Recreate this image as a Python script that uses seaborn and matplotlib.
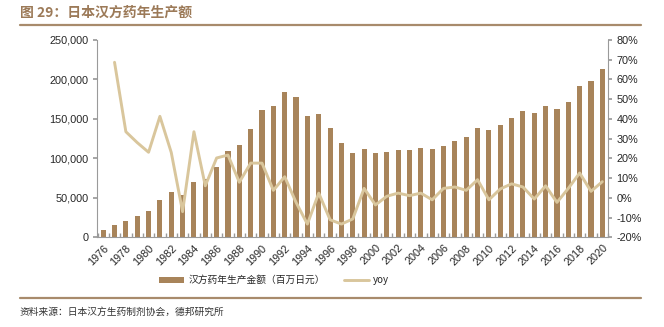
import numpy as np
import pandas as pd
import matplotlib
matplotlib.use("Agg")
import matplotlib.pyplot as plt
import seaborn as sns
from matplotlib.ticker import FuncFormatter, FixedLocator
from matplotlib.lines import Line2D
from matplotlib.patches import Patch

years = list(range(1976, 2021))
production = [9000, 15200, 20300, 26600, 33000, 47000, 57500, 53000, 70700, 74000,
              89500, 109400, 117000, 137300, 161300, 166800, 184500, 178200, 153700, 156700,
              138500, 119500, 106800, 111900, 107200, 108100, 110300, 110600, 113200, 111500,
              116100, 122000, 126700, 138100, 136000, 142000, 151200, 159700, 157500, 166400,
              162200, 171500, 192100, 197700, 213300]
yoy_years = list(range(1977, 2021))
yoy = [68.7, 33.5, 28.0, 23.1, 41.3, 23.0, -7.0, 33.5, 6.1, 20.2,
       21.7, 7.9, 17.6, 17.6, 3.8, 10.7, -2.3, -13.3, 2.4, -11.1,
       -13.3, -10.7, 4.8, -3.6, 0.8, 2.4, 1.1, 2.4, -1.0, 4.8,
       5.5, 3.8, 9.2, -1.0, 4.5, 7.1, 5.5, -0.6, 6.1, -2.3,
       4.8, 12.6, 3.3, 8.2]

title = "图 29：日本汉方药年生产额"
bar_label = "汉方药年生产金额（百万日元）"
line_label = "yoy"
source = "资料来源：日本汉方生药制剂协会，德邦研究所"

sns.set_theme(style="white")
plt.rcParams['font.family'] = ['Liberation Sans', 'Noto Sans CJK SC', 'DejaVu Sans']

bar_color = "#A8845A"
line_color = "#D9C69C"
axis_color = "#9A9A9A"

fig = plt.figure(figsize=(6.64, 3.27), dpi=100)
ax = fig.add_axes([0.146, 0.2743, 0.7697, 0.6034])

df = pd.DataFrame({"year": [str(y) for y in years], "value": production})
sns.barplot(data=df, x="year", y="value", color=bar_color, width=0.45,
            saturation=1, ax=ax, edgecolor="none")

ax2 = ax.twinx()
pos = {y: i for i, y in enumerate(years)}
ldf = pd.DataFrame({"x": [pos[y] for y in yoy_years], "yoy": yoy})
sns.lineplot(data=ldf, x="x", y="yoy", color=line_color, linewidth=2.1, ax=ax2)

ax.set_xlim(-0.55, len(years) - 0.5)
ax.set_ylim(0, 250000)
ax2.set_ylim(-20, 80)
ax.set_yticks(np.arange(0, 250001, 50000))
ax2.set_yticks(np.arange(-20, 81, 10))
ax.yaxis.set_major_formatter(FuncFormatter(lambda v, p: f"{int(v):,}"))
ax2.yaxis.set_major_formatter(FuncFormatter(lambda v, p: f"{int(v)}%"))

ax.set_xticks(range(0, len(years), 2))
ax.set_xticklabels([str(y) for y in years[::2]], rotation=45, ha="right",
                   rotation_mode="anchor", fontsize=7.8)
ax.xaxis.set_minor_locator(FixedLocator(np.arange(-0.5, len(years), 1)))
ax.tick_params(axis="x", which="major", length=0, pad=4)
ax.tick_params(axis="x", which="minor", length=3, direction="in", color=axis_color, bottom=True)
ax.tick_params(axis="y", length=3, direction="out", color=axis_color, labelsize=7.8, pad=3, left=True)
ax2.tick_params(axis="y", length=3, direction="out", color=axis_color, labelsize=7.8, pad=3, right=True)
ax.set_xlabel("")
ax.set_ylabel("")
ax2.set_xlabel("")
ax2.set_ylabel("")

for a in (ax, ax2):
    a.spines["top"].set_visible(False)
    for s in ("left", "right", "bottom"):
        a.spines[s].set_color(axis_color)
        a.spines[s].set_linewidth(0.8)
    a.grid(False)
ax.spines["right"].set_visible(False)
ax2.spines["left"].set_visible(False)
ax2.spines["bottom"].set_visible(False)

handles = [Patch(facecolor=bar_color, edgecolor="none"),
           Line2D([0], [0], color=line_color, linewidth=2.1)]
fig.legend(handles, [bar_label, line_label], loc="center", bbox_to_anchor=(0.413, 0.143),
           ncol=2, frameon=False, handlelength=2.6, handleheight=0.6,
           columnspacing=2.0, handletextpad=0.4,
           prop={"family": ["Noto Sans CJK SC", "Liberation Sans"], "size": 7.0})

fig.text(0.03, 0.962, title, fontsize=10, fontweight="bold", color="#9C7A58",
         va="center", ha="left", family=["Noto Sans CJK SC", "DejaVu Sans"])
fig.add_artist(Line2D([0.03, 0.965], [0.923, 0.923], color="#A88B6C", linewidth=1.6,
                      transform=fig.transFigure))
fig.add_artist(Line2D([0.03, 0.965], [0.089, 0.089], color="#A88B6C", linewidth=1.6,
                      transform=fig.transFigure))
fig.text(0.03, 0.046, source, fontsize=7.0, color="#333333", va="center", ha="left",
         family=["Noto Sans CJK SC", "DejaVu Sans"])

fig.savefig("out.png", dpi=100)
